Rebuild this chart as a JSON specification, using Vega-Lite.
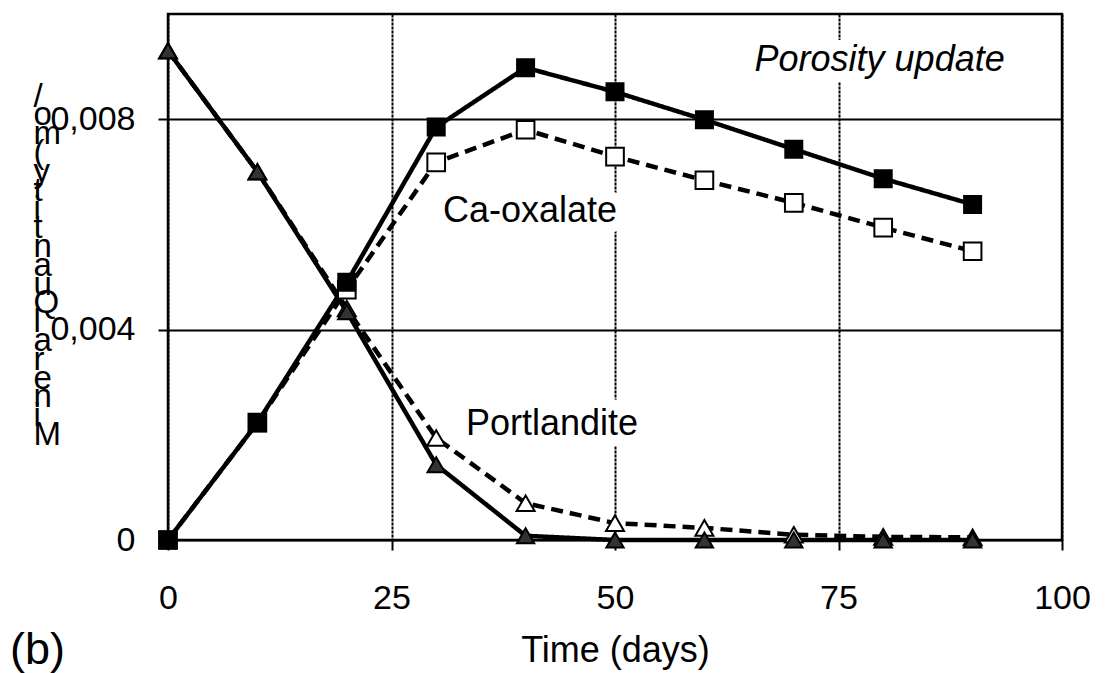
{
  "$schema": "https://vega.github.io/schema/vega-lite/v6.json",
  "width": 894,
  "height": 526,
  "autosize": {"type": "none"},
  "padding": {"left": 168, "top": 14, "right": 44, "bottom": 133},
  "background": "white",
  "config": {"font": "Liberation Sans", "view": {"stroke": "black", "strokeWidth": 2.5}},
  "title": {"text": "(b)", "orient": "bottom", "anchor": "start", "frame": "group", "fontSize": 45, "fontWeight": "normal", "font": "Liberation Sans", "color": "black", "baseline": "alphabetic", "offset": 0, "dx": -158, "dy": -4},
  "datasets": {
    "series": [
      {"series": "Portlandite (no update)", "t": 0, "v": 0.0093},
      {"series": "Portlandite (no update)", "t": 10, "v": 0.007},
      {"series": "Portlandite (no update)", "t": 20, "v": 0.0044},
      {"series": "Portlandite (no update)", "t": 30, "v": 0.00194},
      {"series": "Portlandite (no update)", "t": 40, "v": 0.0007},
      {"series": "Portlandite (no update)", "t": 50, "v": 0.00032},
      {"series": "Portlandite (no update)", "t": 60, "v": 0.00023},
      {"series": "Portlandite (no update)", "t": 70, "v": 0.0001},
      {"series": "Portlandite (no update)", "t": 80, "v": 0.00006},
      {"series": "Portlandite (no update)", "t": 90, "v": 0.00005},
      {"series": "Ca-oxalate (no update)", "t": 0, "v": 0},
      {"series": "Ca-oxalate (no update)", "t": 10, "v": 0.00223},
      {"series": "Ca-oxalate (no update)", "t": 20, "v": 0.00476},
      {"series": "Ca-oxalate (no update)", "t": 30, "v": 0.00718},
      {"series": "Ca-oxalate (no update)", "t": 40, "v": 0.0078},
      {"series": "Ca-oxalate (no update)", "t": 50, "v": 0.00729},
      {"series": "Ca-oxalate (no update)", "t": 60, "v": 0.00684},
      {"series": "Ca-oxalate (no update)", "t": 70, "v": 0.00641},
      {"series": "Ca-oxalate (no update)", "t": 80, "v": 0.00594},
      {"series": "Ca-oxalate (no update)", "t": 90, "v": 0.00549},
      {"series": "Portlandite (porosity update)", "t": 0, "v": 0.0093},
      {"series": "Portlandite (porosity update)", "t": 10, "v": 0.007},
      {"series": "Portlandite (porosity update)", "t": 20, "v": 0.00434},
      {"series": "Portlandite (porosity update)", "t": 30, "v": 0.00143},
      {"series": "Portlandite (porosity update)", "t": 40, "v": 0.00008},
      {"series": "Portlandite (porosity update)", "t": 50, "v": 0},
      {"series": "Portlandite (porosity update)", "t": 60, "v": 0},
      {"series": "Portlandite (porosity update)", "t": 70, "v": 0},
      {"series": "Portlandite (porosity update)", "t": 80, "v": 0},
      {"series": "Portlandite (porosity update)", "t": 90, "v": 0},
      {"series": "Ca-oxalate (porosity update)", "t": 0, "v": 0},
      {"series": "Ca-oxalate (porosity update)", "t": 10, "v": 0.00223},
      {"series": "Ca-oxalate (porosity update)", "t": 20, "v": 0.0049},
      {"series": "Ca-oxalate (porosity update)", "t": 30, "v": 0.00785},
      {"series": "Ca-oxalate (porosity update)", "t": 40, "v": 0.00898},
      {"series": "Ca-oxalate (porosity update)", "t": 50, "v": 0.00852},
      {"series": "Ca-oxalate (porosity update)", "t": 60, "v": 0.00799},
      {"series": "Ca-oxalate (porosity update)", "t": 70, "v": 0.00743},
      {"series": "Ca-oxalate (porosity update)", "t": 80, "v": 0.00687},
      {"series": "Ca-oxalate (porosity update)", "t": 90, "v": 0.00638}
    ],
    "labels": [
      {"label": "Ca-oxalate", "t": 40.5, "v": 0.00604, "kind": "normal"},
      {"label": "Portlandite", "t": 42.95, "v": 0.002, "kind": "normal"},
      {"label": "Porosity update", "t": 79.6, "v": 0.00891, "kind": "italic"}
    ]
  },
  "encoding": {
    "x": {
      "field": "t", "type": "quantitative",
      "scale": {"domain": [0, 100], "nice": false, "zero": false},
      "axis": {
        "values": [0, 25, 50, 75, 100], "title": "Time (days)", "domain": false,
        "grid": true, "gridColor": "black", "gridWidth": 2, "gridDash": [3, 1], "gridOpacity": 1,
        "ticks": true, "tickSize": 10, "tickColor": "black", "tickWidth": 2,
        "labelFontSize": 34, "labelColor": "black", "labelPadding": 31, "labelFont": "Liberation Sans",
        "labelFlush": false, "labelOverlap": false,
        "titleFont": "Liberation Sans", "titleFontSize": 36, "titleFontWeight": "normal", "titleColor": "black",
        "titleY": 121, "titleBaseline": "alphabetic"
      }
    },
    "y": {
      "field": "v", "type": "quantitative",
      "scale": {"domain": [0, 0.01], "nice": false},
      "axis": {
        "values": [0, 0.004, 0.008], "domain": false,
        "grid": true, "gridColor": "black", "gridWidth": 2, "gridOpacity": 1,
        "ticks": true, "tickSize": 10, "tickColor": "black", "tickWidth": 2,
        "labelFontSize": 34, "labelColor": "black", "labelPadding": 23, "labelFont": "Liberation Sans",
        "labelFlush": false, "labelOverlap": false,
        "labelExpr": "datum.value == 0 ? '0' : replace(format(datum.value, '.3f'), '.', ',')",
        "title": ["/", "o", "m", "(", "y", "t", "i", "t", "n", "a", "u", "Q", "l", "a", "r", "e", "n", "i", "M"],
        "titleAngle": 0, "titleAlign": "left", "titleBaseline": "alphabetic",
        "titleX": -135, "titleY": 92, "titleFontSize": 33, "titleLineHeight": 18.8,
        "titleFontWeight": "normal", "titleColor": "black", "titleFont": "Liberation Sans"
      }
    }
  },
  "layer": [
    {
      "data": {"name": "labels"},
      "transform": [{"filter": "datum.kind == 'normal'"}],
      "mark": {"type": "text", "fill": "white", "stroke": "white", "strokeWidth": 22, "strokeJoin": "round", "fontSize": 36, "baseline": "alphabetic", "align": "center", "font": "Liberation Sans"},
      "encoding": {"text": {"field": "label"}}
    },
    {
      "data": {"name": "labels"},
      "transform": [{"filter": "datum.kind == 'italic'"}],
      "mark": {"type": "text", "fill": "white", "stroke": "white", "strokeWidth": 22, "strokeJoin": "round", "fontSize": 36, "fontStyle": "italic", "baseline": "alphabetic", "align": "center", "font": "Liberation Sans"},
      "encoding": {"text": {"field": "label"}}
    },
    {
      "data": {"name": "series"},
      "mark": {"type": "line", "color": "black", "strokeWidth": 4.5},
      "encoding": {
        "detail": {"field": "series", "type": "nominal"},
        "strokeDash": {
          "field": "series", "type": "nominal", "legend": null,
          "scale": {
            "domain": ["Portlandite (no update)", "Ca-oxalate (no update)", "Portlandite (porosity update)", "Ca-oxalate (porosity update)"],
            "range": [[12, 7], [12, 7], [1, 0], [1, 0]]
          }
        }
      }
    },
    {
      "data": {"name": "series"},
      "mark": {"type": "point", "filled": true, "stroke": "black", "strokeWidth": 2, "opacity": 1},
      "encoding": {
        "shape": {
          "field": "series", "type": "nominal", "legend": null,
          "scale": {
            "domain": ["Portlandite (no update)", "Ca-oxalate (no update)", "Portlandite (porosity update)", "Ca-oxalate (porosity update)"],
            "range": ["triangle-up", "square", "triangle-up", "square"]
          }
        },
        "fill": {
          "field": "series", "type": "nominal", "legend": null,
          "scale": {
            "domain": ["Portlandite (no update)", "Ca-oxalate (no update)", "Portlandite (porosity update)", "Ca-oxalate (porosity update)"],
            "range": ["white", "white", "#333333", "black"]
          }
        },
        "size": {
          "field": "series", "type": "ordinal", "legend": null,
          "scale": {
            "domain": ["Portlandite (no update)", "Ca-oxalate (no update)", "Portlandite (porosity update)", "Ca-oxalate (porosity update)"],
            "range": [324, 289, 576, 400]
          }
        }
      }
    },
    {
      "data": {"name": "labels"},
      "transform": [{"filter": "datum.kind == 'normal'"}],
      "mark": {"type": "text", "fill": "black", "fontSize": 36, "baseline": "alphabetic", "align": "center", "font": "Liberation Sans"},
      "encoding": {"text": {"field": "label"}}
    },
    {
      "data": {"name": "labels"},
      "transform": [{"filter": "datum.kind == 'italic'"}],
      "mark": {"type": "text", "fill": "black", "fontSize": 36, "fontStyle": "italic", "baseline": "alphabetic", "align": "center", "font": "Liberation Sans"},
      "encoding": {"text": {"field": "label"}}
    }
  ]
}
